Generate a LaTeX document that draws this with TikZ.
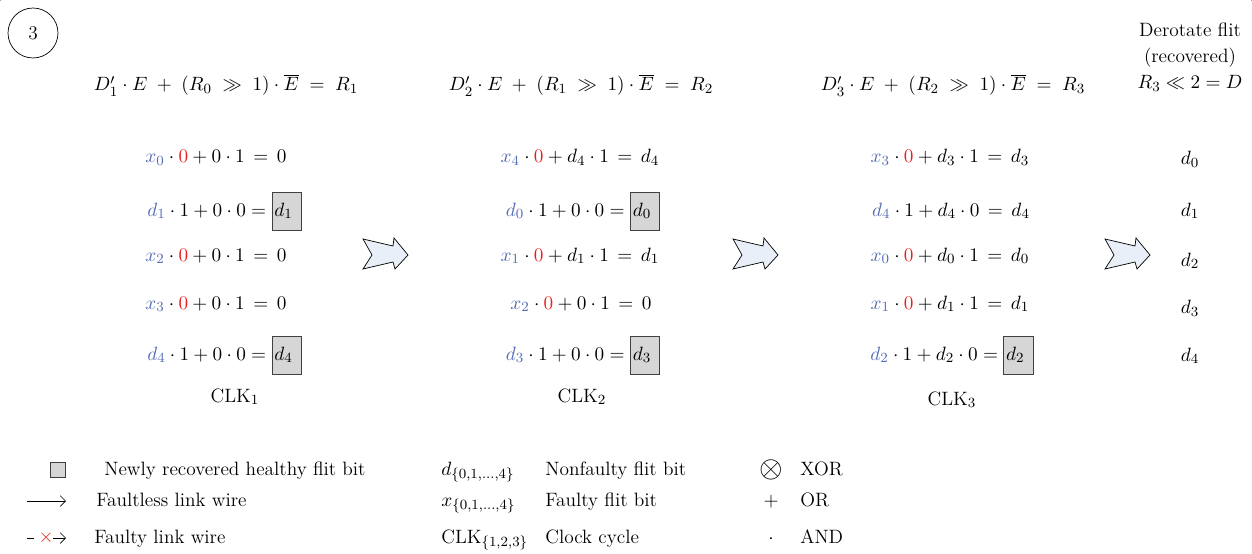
\documentclass[tikz,border=0pt]{standalone}
\usepackage{amsmath, amssymb}
\usepackage{tikz}
\usetikzlibrary{arrows.meta}

\definecolor{flitblue}{RGB}{84,108,180}
\definecolor{faultred}{RGB}{232,32,32}
\definecolor{boxfill}{RGB}{214,214,214}
\definecolor{arrowfill}{RGB}{232,239,248}

\newcommand{\bl}[1]{{\color{flitblue}#1}}
\newcommand{\rz}{{\color{faultred}0}}
\newcommand{\newbit}[1]{{\setlength{\fboxsep}{1.2pt}\fcolorbox{black!75}{boxfill}{\rule[-7pt]{0pt}{19pt}\makebox[14pt][l]{$#1$}}}}

\tikzset{
    eq/.style={inner sep=0pt, anchor=base, font=\fontsize{11}{13}\selectfont},
    lbl/.style={inner sep=0pt, anchor=base west, font=\fontsize{11}{13}\selectfont},
    fatarrow/.pic={
        \draw[fill=arrowfill, line join=miter, thin]
            (-22,-15) -- (8,-8) -- (9,-16) -- (23,1) -- (10,15) -- (8,8)
            -- (-22,15) -- (-13,1) -- cycle;
    }
}

\begin{document}
\begin{tikzpicture}[x=0.02cm, y=-0.02cm]
    \useasboundingbox (0,0) rectangle (1252,554);

    % Frame and step number
    \draw[thin] (-3,-3) [rounded corners=6pt] rectangle (1255,620);
    \node[circle, draw, minimum size=1cm, inner sep=0pt, font=\fontsize{11}{13}\selectfont] (step3) at (33,33) {3};

    % Header equations
    \node[eq] (h1) at (226,91) {$D_1'\cdot E\;+\;(R_0\;\gg\;1)\cdot\overline{E}\;=\;R_1$};
    \node[eq] (h2) at (581,91) {$D_2'\cdot E\;+\;(R_1\;\gg\;1)\cdot\overline{E}\;=\;R_2$};
    \node[eq] (h3) at (953,91) {$D_3'\cdot E\;+\;(R_2\;\gg\;1)\cdot\overline{E}\;=\;R_3$};
    \node[eq, align=center, anchor=center, font=\fontsize{11}{15}\selectfont] (derot) at (1190,57)
        {Derotate flit\\(recovered)\\$R_3\ll 2=D$};

    % Clock cycle 1
    \node[lbl] (a0) at (145,163) {$\bl{x_0}\cdot\rz+0\cdot 1\,=\,0$};
    \node[lbl] (a1) at (147,216) {$\bl{d_1}\cdot 1+0\cdot 0=\newbit{d_1}$};
    \node[lbl] (a2) at (145,261) {$\bl{x_2}\cdot\rz+0\cdot 1\,=\,0$};
    \node[lbl] (a3) at (145,309) {$\bl{x_3}\cdot\rz+0\cdot 1\,=\,0$};
    \node[lbl] (a4) at (147,360) {$\bl{d_4}\cdot 1+0\cdot 0=\newbit{d_4}$};
    \node[eq] (clk1) at (235,402) {CLK$_1$};

    % Clock cycle 2
    \node[eq] (b0) at (580,163) {$\bl{x_4}\cdot\rz+d_4\cdot 1\,=\,d_4$};
    \node[eq] (b1) at (583,216) {$\bl{d_0}\cdot 1+0\cdot 0=\newbit{d_0}$};
    \node[eq] (b2) at (580,261) {$\bl{x_1}\cdot\rz+d_1\cdot 1\,=\,d_1$};
    \node[eq] (b3) at (581,309) {$\bl{x_2}\cdot\rz+0\cdot 1\,=\,0$};
    \node[eq] (b4) at (583,360) {$\bl{d_3}\cdot 1+0\cdot 0=\newbit{d_3}$};
    \node[eq] (clk2) at (582,402) {CLK$_2$};

    % Clock cycle 3
    \node[eq] (c0) at (950,163) {$\bl{x_3}\cdot\rz+d_3\cdot 1\,=\,d_3$};
    \node[eq] (c1) at (951,216) {$\bl{d_4}\cdot 1+d_4\cdot 0\,=\,d_4$};
    \node[eq] (c2) at (950,261) {$\bl{x_0}\cdot\rz+d_0\cdot 1\,=\,d_0$};
    \node[eq] (c3) at (950,309) {$\bl{x_1}\cdot\rz+d_1\cdot 1\,=\,d_1$};
    \node[eq] (c4) at (952,360) {$\bl{d_2}\cdot 1+d_2\cdot 0=\newbit{d_2}$};
    \node[eq] (clk3) at (952,405) {CLK$_3$};

    % Recovered flit
    \node[eq] (r0) at (1190,165) {$d_0$};
    \node[eq] (r1) at (1190,216) {$d_1$};
    \node[eq] (r2) at (1190,266) {$d_2$};
    \node[eq] (r3) at (1190,314) {$d_3$};
    \node[eq] (r4) at (1190,361) {$d_4$};

    % Step arrows
    \pic at (385,254) {fatarrow};
    \pic at (755,254) {fatarrow};
    \pic at (1127,254) {fatarrow};

    % Legend
    \node[draw=black!75, fill=boxfill, minimum size=0.3cm, inner sep=0pt] (keybox) at (58,470) {};
    \node[lbl] (keybox-t) at (104,475) {Newly recovered healthy flit bit};
    \coordinate (w1a) at (27,501);
    \coordinate (w1b) at (66,501);
    \draw[-{Straight Barb[length=3pt,width=6pt]}] (w1a) -- (w1b);
    \node[lbl] (w1-t) at (96,506) {Faultless link wire};
    \coordinate (w2a) at (27,538);
    \coordinate (w2b) at (34,538);
    \coordinate (w2c) at (53,538);
    \coordinate (w2d) at (66,538);
    \draw (w2a) -- (w2b);
    \node[text=faultred, inner sep=0pt, font=\fontsize{11}{13}\selectfont] (w2x) at (46,538) {$\times$};
    \draw[-{Straight Barb[length=3pt,width=6pt]}] (w2c) -- (w2d);
    \node[lbl] (w2-t) at (94,543) {Faulty link wire};

    \node[lbl] (k1) at (441,475) {$d_{\{0,1,\ldots,4\}}$};
    \node[lbl] (k1-t) at (545,475) {Nonfaulty flit bit};
    \node[lbl] (k2) at (441,506) {$x_{\{0,1,\ldots,4\}}$};
    \node[lbl] (k2-t) at (545,506) {Faulty flit bit};
    \node[lbl] (k3) at (441,543) {CLK$_{\{1,2,3\}}$};
    \node[lbl] (k3-t) at (545,543) {Clock cycle};

    \node[inner sep=0pt, font=\fontsize{18}{18}\selectfont] (o1) at (771,470) {$\otimes$};
    \node[lbl] (o1-t) at (800,475) {XOR};
    \node[eq] (o2) at (771,506) {$+$};
    \node[lbl] (o2-t) at (800,506) {OR};
    \node[eq] (o3) at (771,543) {$\cdot$};
    \node[lbl] (o3-t) at (800,543) {AND};
\end{tikzpicture}
\end{document}
